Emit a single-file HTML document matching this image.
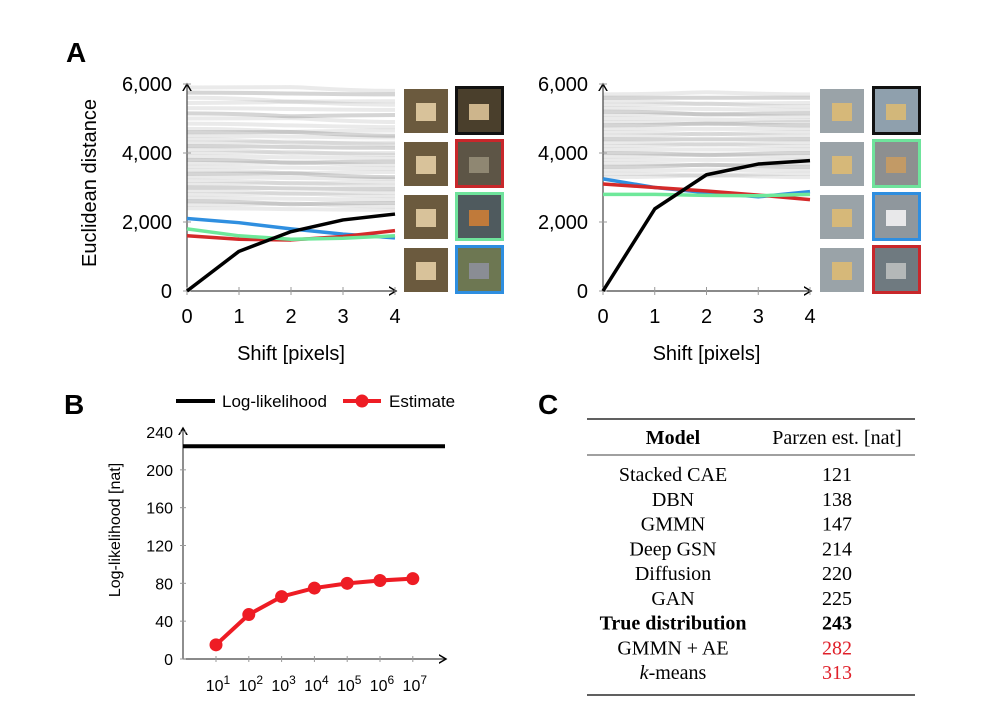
<!DOCTYPE html>
<html><head><meta charset="utf-8"><style>
body{margin:0;background:#fff;width:1001px;height:715px;overflow:hidden}
svg{display:block}
text{font-family:"Liberation Sans",Arial,sans-serif}
.serif{font-family:"Liberation Serif","Times New Roman",serif}
</style></head><body>
<svg id="fig" width="1001" height="715" viewBox="0 0 1001 715" xmlns="http://www.w3.org/2000/svg">
<defs><marker id="arr" markerWidth="8" markerHeight="8" refX="6" refY="4" orient="auto"><path d="M0,0.5 L6,4 L0,7.5" fill="none" stroke="#000" stroke-width="1.2"/></marker></defs>
<text x="66" y="62" font-size="28" font-weight="bold">A</text>
<text x="64" y="414" font-size="28" font-weight="bold">B</text>
<text x="538" y="414" font-size="28" font-weight="bold">C</text>
<g id="gA1"></g>
<g id="gA2"></g>
<g id="gB"></g>
<g id="gC">
<line x1="587" y1="419" x2="915" y2="419" stroke="#000" stroke-width="1.3"/>
<line x1="587" y1="455" x2="915" y2="455" stroke="#000" stroke-width="0.8"/>
<line x1="587" y1="695" x2="915" y2="695" stroke="#000" stroke-width="1.3"/>
<text class="serif" x="673" y="444" font-size="20" font-weight="bold" text-anchor="middle">Model</text>
<text class="serif" x="837" y="444" font-size="20" text-anchor="middle">Parzen est. [nat]</text>
</g>
</svg>
<script>
const NS="http://www.w3.org/2000/svg";
function mk(p,tag,attrs,txt){const e=document.createElementNS(NS,tag);for(const k in attrs)e.setAttribute(k,attrs[k]);if(txt!==undefined)e.textContent=txt;p.appendChild(e);return e;}

// ---- Panel A data ----
const shiftTicks=[0,1,2,3,4];
const distTicks=[0,2000,4000,6000];
const distTickLabels=["0","2,000","4,000","6,000"];
const leftGrayStart=[5900,5750,5600,5450,5300,5150,5000,4850,4700,4600,4500,4400,4300,4200,4100,4000,3900,3800,3700,3600,3500,3400,3300,3200,3100,3000,2900,2800,2700,2600,2500,2400];
const leftGrayEnd=[5800,5700,5500,5400,5250,5100,4900,4750,4650,4500,4450,4300,4250,4150,4000,3950,3850,3750,3650,3550,3450,3300,3250,3150,3050,2950,2850,2750,2650,2550,2450,2350];
const leftBlue=[2100,1980,1800,1650,1540];
const leftGreen=[1800,1600,1500,1530,1600];
const leftRed=[1600,1500,1480,1580,1750];
const leftBlack=[0,1150,1720,2060,2230];
const rightGrayStart=[5700,5600,5500,5400,5300,5200,5100,5000,4900,4800,4700,4600,4500,4400,4300,4200,4100,4000,3900,3800,3700,3600,3500,3400,3300];
const rightGrayEnd=[5700,5600,5450,5350,5250,5150,5050,4950,4900,4800,4700,4600,4500,4400,4300,4200,4100,4000,3900,3800,3700,3600,3500,3400,3300];
const rightBlue=[3250,3000,2850,2730,2880];
const rightRed=[3100,3000,2900,2780,2650];
const rightGreen=[2800,2800,2770,2760,2800];
const rightBlack=[0,2380,3370,3680,3780];

function panelA(g,x0,x4,gs,ge,blue,green,red,black,showY){
  const y0=291,y6=84;
  const sx=v=>x0+(x4-x0)*v/4, sy=v=>y0+(y6-y0)*v/6000;
  for(let i=0;i<gs.length;i++){
    const a=gs[i],b=ge[i],m=(a+b)/2-60*((i%3)-1);
    const l=mk(g,'path',{d:`M${sx(0)},${sy(a)} C${sx(1.3)},${sy(a)} ${sx(1.7)},${sy(m)} ${sx(2)},${sy(m)} S${sx(3)},${sy(b)} ${sx(4)},${sy(b)}`,fill:'none',stroke:'#888','stroke-opacity':i%4==1?0.35:0.18,'stroke-width':4});
    
    
  }
  const ax=mk(g,'line',{x1:x0,y1:y0,x2:x0,y2:y6,stroke:'#444','stroke-width':1.2,'marker-end':'url(#arr)'});
  
  const ax2=mk(g,'line',{x1:x0,y1:y0,x2:x4+1,y2:y0,stroke:'#444','stroke-width':1.2,'marker-end':'url(#arr)'});
  
  distTicks.forEach((v,i)=>{
    mk(g,'line',{x1:x0-4,y1:sy(v),x2:x0+4,y2:sy(v),stroke:'#999'});
    const t=mk(g,'text',{x:x0-15,y:sy(v)+7,'font-size':20,'text-anchor':'end'},distTickLabels[i]);
    
  });
  shiftTicks.forEach(v=>{
    mk(g,'line',{x1:sx(v),y1:y0-4,x2:sx(v),y2:y0+4,stroke:'#999'});
    const t=mk(g,'text',{x:sx(v),y:323,'font-size':20,'text-anchor':'middle'},String(v));
    
  });
  const xt=mk(g,'text',{x:(x0+x4)/2,y:360,'font-size':20,'text-anchor':'middle'},'Shift [pixels]');
  
  if(showY){const yt=mk(g,'text',{x:0,y:0,'font-size':20,'text-anchor':'middle',transform:'translate(96,183) rotate(-90)'},'Euclidean distance');
    }
  [[blue,'#2f8fe0','blue-series'],[red,'#d42a2a','red-series'],[green,'#6ee89a','green-series'],[black,'#000','black-series']].forEach(([d,c,n])=>{
    const p=mk(g,'polyline',{points:d.map((v,i)=>sx(i)+','+sy(v)).join(' '),fill:'none',stroke:c,'stroke-width':3.5,'stroke-linejoin':'round'});
    
  });
}
panelA(document.getElementById('gA1'),187,395,leftGrayStart,leftGrayEnd,leftBlue,leftGreen,leftRed,leftBlack,true);
panelA(document.getElementById('gA2'),603,810,rightGrayStart,rightGrayEnd,rightBlue,rightGreen,rightRed,rightBlack,false);

// thumbnails
function thumbs(g,x1,x2,frames,q,t){
  for(let r=0;r<4;r++){
    const y=89+r*53;
    const a=mk(g,'rect',{x:x1,y:y,width:44,height:44,fill:q[0]});
    
    mk(g,'rect',{x:x1+12,y:y+14,width:20,height:18,fill:q[1]});
    const b=mk(g,'rect',{x:x2+1.5,y:y-1.5,width:46,height:46,fill:t[r][0],stroke:frames[r],'stroke-width':3});
    
    mk(g,'rect',{x:x2+14,y:y+15,width:20,height:16,fill:t[r][1]});
  }
}
thumbs(document.getElementById('gA1'),404,455,['#111','#c8272b','#6fe39c','#2e8ee0'],['#6b5a3e','#d8c29a'],[['#4a3f2c','#cdb58c'],['#5d5546','#8f8772'],['#4f5a5e','#c07a3a'],['#6d7752','#8a8d94']]);
thumbs(document.getElementById('gA2'),820,872,['#111','#6fe39c','#2e8ee0','#c8272b'],['#9aa3a8','#d6b879'],[['#8fa0ad','#d2b77a'],['#8d8f90','#c29a66'],['#8f979d','#e8e8ea'],['#6f7a80','#b4b8b8']]);

// ---- Panel B data ----
const bCats=["1","2","3","4","5","6","7"];
const bEstimate=[15,47,66,75,80,83,85];
const bLogLik=225;
const bYTicks=[0,40,80,120,160,200,240];
(function(){
  const g=document.getElementById('gB');
  const x0=183,y0=659,ytop=432;
  const sy=v=>y0+(ytop-y0)*v/240, sx=i=>216+i*32.8;
  const a1=mk(g,'line',{x1:x0,y1:y0,x2:x0,y2:ytop-4,stroke:'#444','stroke-width':1.2,'marker-end':'url(#arr)'});
  
  const a2=mk(g,'line',{x1:x0,y1:y0,x2:446,y2:y0,stroke:'#444','stroke-width':1.2,'marker-end':'url(#arr)'});
  
  bYTicks.forEach(v=>{
    mk(g,'line',{x1:x0-3,y1:sy(v),x2:x0+3,y2:sy(v),stroke:'#999'});
    const t=mk(g,'text',{x:173,y:sy(v)+6,'font-size':16,'text-anchor':'end'},String(v));
    
  });
  bCats.forEach((c,i)=>{
    mk(g,'line',{x1:sx(i),y1:y0-3,x2:sx(i),y2:y0+3,stroke:'#999'});
    const t=mk(g,'text',{x:sx(i)+2,y:691,'font-size':16,'text-anchor':'middle'});
    
    t.appendChild(document.createTextNode('10'));
    const s=document.createElementNS(NS,'tspan');s.setAttribute('dy','-7');s.setAttribute('font-size','12');s.textContent=c;t.appendChild(s);
  });
  const yt=mk(g,'text',{x:0,y:0,'font-size':16,'text-anchor':'middle',transform:'translate(120,530) rotate(-90)'},'Log-likelihood [nat]');
  
  const ll=mk(g,'line',{x1:x0,y1:sy(bLogLik),x2:445,y2:sy(bLogLik),stroke:'#000','stroke-width':4});
  
  const pl=mk(g,'polyline',{points:bEstimate.map((v,i)=>sx(i)+','+sy(v)).join(' '),fill:'none',stroke:'#ee1c24','stroke-width':4});
  
  bEstimate.forEach((v,i)=>{const c=mk(g,'circle',{cx:sx(i),cy:sy(v),r:6.5,fill:'#ee1c24'});
    });
  // legend
  const lg=mk(g,'g',{});
  mk(lg,'line',{x1:176,y1:401,x2:215,y2:401,stroke:'#000','stroke-width':4});
  const l1=mk(lg,'text',{x:222,y:407,'font-size':17},'Log-likelihood');
  
  mk(lg,'line',{x1:343,y1:401,x2:381,y2:401,stroke:'#ee1c24','stroke-width':4});
  mk(lg,'circle',{cx:362,cy:401,r:6.5,fill:'#ee1c24'});
  const l2=mk(lg,'text',{x:389,y:407,'font-size':17},'Estimate');
  
})();

// ---- Panel C table ----
const cModels=["Stacked CAE","DBN","GMMN","Deep GSN","Diffusion","GAN","True distribution","GMMN + AE","k-means"];
const cValues=["121","138","147","214","220","225","243","282","313"];
(function(){
  const g=document.getElementById('gC');
  cModels.forEach((m,i)=>{
    const y=481+i*24.75;
    const bold=i===6, red=i>=7;
    const t=mk(g,'text',{class:'serif',x:673,y:y,'font-size':20,'text-anchor':'middle','font-weight':bold?'bold':'normal'});
    
    if(m==='k-means'){const s=document.createElementNS(NS,'tspan');s.setAttribute('font-style','italic');s.textContent='k';t.appendChild(s);t.appendChild(document.createTextNode('-means'));}
    else t.textContent=m;
    const v=mk(g,'text',{class:'serif',x:837,y:y,'font-size':20,'text-anchor':'middle','font-weight':bold?'bold':'normal',fill:red?'#e0202a':'#000'},cValues[i]);
    
  });
})();
</script>
</body></html>
